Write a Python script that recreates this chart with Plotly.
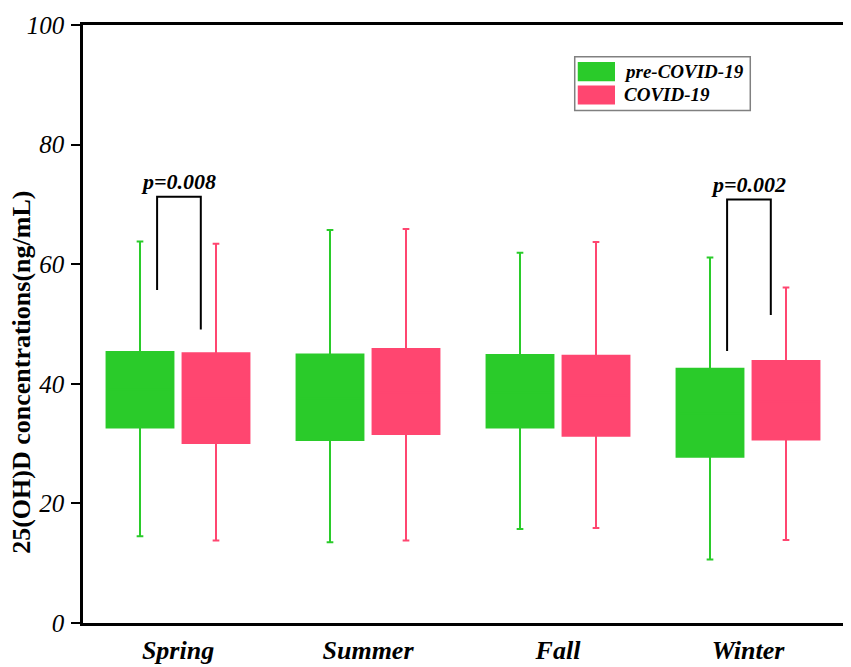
import plotly.graph_objects as go

# season categories
seasons = ["Spring", "Summer", "Fall", "Winter"]

# box statistics (ng/mL)
pre_lower = [14.5, 13.5, 15.7, 10.6]
pre_q1 = [32.7, 30.6, 32.7, 27.8]
pre_median = [39.0, 37.5, 38.5, 35.0]
pre_q3 = [45.3, 44.9, 44.8, 42.5]
pre_upper = [63.8, 65.7, 61.9, 61.1]

cov_lower = [13.8, 13.8, 15.9, 13.9]
cov_q1 = [30.1, 31.6, 31.3, 30.7]
cov_median = [37.5, 38.5, 38.0, 37.0]
cov_q3 = [45.1, 45.8, 44.7, 43.8]
cov_upper = [63.4, 65.9, 63.7, 56.1]

series_names = ["pre-COVID-19", "COVID-19"]
series_colors = ["#2acb2a", "#ff4670"]

# significance brackets: season index, left leg end, right leg end, top, label
bracket_season = [0, 3]
bracket_left_end = [55.7, 45.5]
bracket_right_end = [49.1, 51.5]
bracket_top = [71.3, 70.8]
bracket_label = ["p=0.008", "p=0.002"]

SERIF = "Liberation Serif, Times New Roman, serif"

fig = go.Figure()
stats = [
    (pre_lower, pre_q1, pre_median, pre_q3, pre_upper),
    (cov_lower, cov_q1, cov_median, cov_q3, cov_upper),
]
for name, color, (lo, q1, med, q3, up) in zip(series_names, series_colors, stats):
    fig.add_trace(go.Box(
        x=seasons, lowerfence=lo, q1=q1, median=med, q3=q3, upperfence=up,
        name=name, fillcolor=color, line=dict(color=color, width=2),
        whiskerwidth=0.1, boxpoints=False, showlegend=False,
    ))

shapes = []
annotations = []
for idx, le, re, top, lab in zip(bracket_season, bracket_left_end, bracket_right_end,
                                 bracket_top, bracket_label):
    x0, x1 = idx - 0.11, idx + 0.12
    shapes.append(dict(
        type="path", xref="x", yref="y",
        path=f"M {x0},{le} L {x0},{top} L {x1},{top} L {x1},{re}",
        line=dict(color="black", width=2),
    ))
    annotations.append(dict(
        x=(x0 + x1) / 2, y=top, xref="x", yref="y", text=lab, showarrow=False,
        yanchor="bottom", yshift=1,
        font=dict(family=SERIF, size=22, color="black", weight="bold", style="italic"),
    ))

# hand-drawn legend (wide swatches like the original)
shapes.append(dict(type="rect", xref="paper", yref="paper", x0=0.647, x1=0.878,
                   y0=0.857, y1=0.947, line=dict(color="#808080", width=1.5),
                   fillcolor="white"))
for i, (name, color) in enumerate(zip(series_names, series_colors)):
    yc = 0.922 - i * 0.039
    shapes.append(dict(type="rect", xref="paper", yref="paper", x0=0.651, x1=0.700,
                       y0=yc - 0.016, y1=yc + 0.016, line=dict(width=0),
                       fillcolor=color))
    annotations.append(dict(
        x=0.709, y=yc, xref="paper", yref="paper", text=name, showarrow=False,
        xanchor="left", yanchor="middle",
        font=dict(family=SERIF, size=19, color="black", weight="bold", style="italic"),
    ))

# y axis title as a rotated annotation so it sits where the original has it
annotations.append(dict(
    x=-0.0803, y=0.42, xref="paper", yref="paper", text="25(OH)D concentrations(ng/mL)",
    showarrow=False, textangle=-90, xanchor="center", yanchor="middle",
    font=dict(family=SERIF, size=26, color="black", weight="bold"),
))

# the page body adds an 8px offset, so the figure is 8px smaller each way
fig.update_layout(
    width=843, height=659,
    margin=dict(l=75, r=8, t=17, b=44),
    paper_bgcolor="white", plot_bgcolor="white",
    boxmode="group", boxgap=0.2, boxgroupgap=0.12,
    shapes=shapes, annotations=annotations,
    xaxis=dict(
        range=[-0.5, 3.5], showline=True, linecolor="black", linewidth=2.5,
        mirror=True, ticks="", showgrid=False, zeroline=False, automargin=False,
        tickfont=dict(family=SERIF, size=26, color="black", weight="bold", style="italic"),
        ticklabelstandoff=2,
    ),
    yaxis=dict(
        range=[0, 100], dtick=20, showline=True, linecolor="black", linewidth=2.5,
        mirror=True, ticks="outside", ticklen=9, tickwidth=2, tickcolor="black",
        showgrid=False, zeroline=False, automargin=False,
        tickfont=dict(family=SERIF, size=25, color="black", style="italic"),
        ticklabelstandoff=2,
    ),
)

fig.write_html("out.html")
